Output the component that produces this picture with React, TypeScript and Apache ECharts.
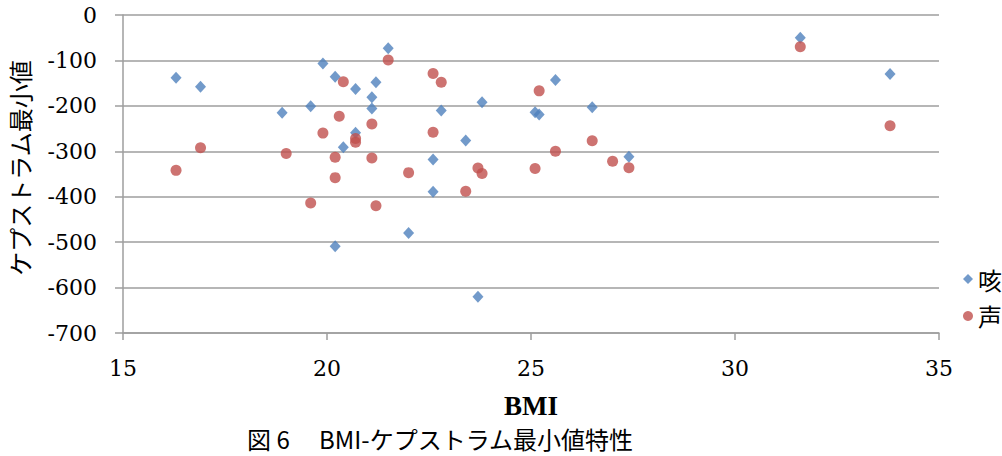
import React, { useEffect, useRef } from "react";
import * as echarts from "echarts";

const seriesNames = ["咳", "声"];
const xTicks = [15, 20, 25, 30, 35];
const yTicks = [0, -100, -200, -300, -400, -500, -600, -700];

// 咳 (cough): [BMI, cepstrum minimum]
const coughData: [number, number][] = [
  [16.3, -138], [16.9, -158], [18.9, -215], [19.6, -201], [19.9, -107],
  [20.2, -136], [20.2, -509], [20.4, -291], [20.7, -163], [20.7, -259],
  [21.1, -181], [21.1, -206], [21.2, -148], [21.5, -73], [22.0, -480],
  [22.6, -318], [22.6, -389], [22.8, -210], [23.4, -276], [23.7, -620],
  [23.8, -192], [25.1, -214], [25.2, -219], [25.6, -143], [26.5, -203],
  [27.4, -312], [31.6, -50], [33.8, -130],
];

// 声 (voice): [BMI, cepstrum minimum]
const voiceData: [number, number][] = [
  [16.3, -342], [16.9, -292], [19.0, -305], [19.6, -414], [19.9, -260],
  [20.2, -313], [20.2, -358], [20.3, -223], [20.4, -147], [20.7, -272],
  [20.7, -280], [21.1, -240], [21.1, -315], [21.2, -420], [21.5, -99],
  [22.0, -347], [22.6, -129], [22.6, -258], [22.8, -148], [23.4, -388],
  [23.7, -337], [23.8, -349], [25.1, -338], [25.2, -167], [25.6, -300],
  [26.5, -277], [27.0, -322], [27.4, -336], [31.6, -70], [33.8, -244],
];

const xName = "BMI";
const yName = "ケプストラム最小値";
const caption = "図 6　 BMI-ケプストラム最小値特性";

const SERIF = "DejaVu Serif";
const NAME_SERIF = "Liberation Serif";
const CJK = "Noto Sans CJK JP";

export default function App() {
  const ref = useRef<HTMLDivElement>(null);
  useEffect(() => {
    if (!ref.current) return;
    const chart = echarts.init(ref.current, undefined, { renderer: "svg" });
    const gridColor = "#9e9e9e";
    chart.setOption({
      animation: false,
      backgroundColor: "#ffffff",
      textStyle: { fontFamily: SERIF },
      grid: { left: 123, right: 63, top: 15, bottom: 123, containLabel: false },
      xAxis: {
        type: "value",
        min: xTicks[0],
        max: xTicks[xTicks.length - 1],
        interval: 5,
        name: xName,
        nameLocation: "middle",
        nameGap: 59,
        nameTextStyle: { fontFamily: NAME_SERIF, fontSize: 27, fontWeight: "bold", color: "#000" },
        axisLine: { show: true, onZero: false, lineStyle: { color: gridColor, width: 1.5 } },
        axisTick: { show: true, inside: false, length: 7, lineStyle: { color: gridColor, width: 1.5 } },
        axisLabel: { fontFamily: SERIF, fontSize: 22, color: "#000", margin: 24 },
        splitLine: { show: false },
      },
      yAxis: {
        type: "value",
        min: yTicks[yTicks.length - 1],
        max: yTicks[0],
        interval: 100,
        axisLine: { show: true, lineStyle: { color: gridColor, width: 1.5 } },
        axisTick: { show: true, inside: false, length: 8, lineStyle: { color: gridColor, width: 1.5 } },
        axisLabel: { fontFamily: SERIF, fontSize: 22, color: "#000", margin: 26 },
        splitLine: { show: true, lineStyle: { color: gridColor, width: 1.5 } },
      },
      legend: {
        orient: "vertical",
        left: 958,
        top: 262,
        itemWidth: 10,
        itemHeight: 10,
        itemGap: 13,
        textStyle: { fontFamily: CJK, fontSize: 24, color: "#000" },
        data: [
          { name: seriesNames[0], icon: "diamond" },
          { name: seriesNames[1], icon: "circle" },
        ],
      },
      graphic: [
        {
          type: "text",
          x: 19,
          y: 168,
          rotation: Math.PI / 2,
          style: {
            text: yName,
            fontFamily: CJK,
            fontSize: 24,
            fill: "#000",
            textAlign: "center",
            textVerticalAlign: "middle",
          },
        },
        {
          type: "text",
          x: 247,
          y: 438,
          style: {
            text: caption,
            fontFamily: CJK,
            fontSize: 24,
            fill: "#000",
            textAlign: "left",
            textVerticalAlign: "middle",
          },
        },
      ],
      series: [
        {
          name: seriesNames[0],
          type: "scatter",
          symbol: "diamond",
          symbolSize: [11, 12],
          itemStyle: { color: "#4F81BD" },
          data: coughData,
        },
        {
          name: seriesNames[1],
          type: "scatter",
          symbol: "circle",
          symbolSize: 11,
          itemStyle: { color: "#C0504D" },
          data: voiceData,
        },
      ],
    });
    return () => chart.dispose();
  }, []);
  return (
    <div
      ref={ref}
      style={{ position: "fixed", left: 0, top: 0, width: 1002, height: 456 }}
    />
  );
}
